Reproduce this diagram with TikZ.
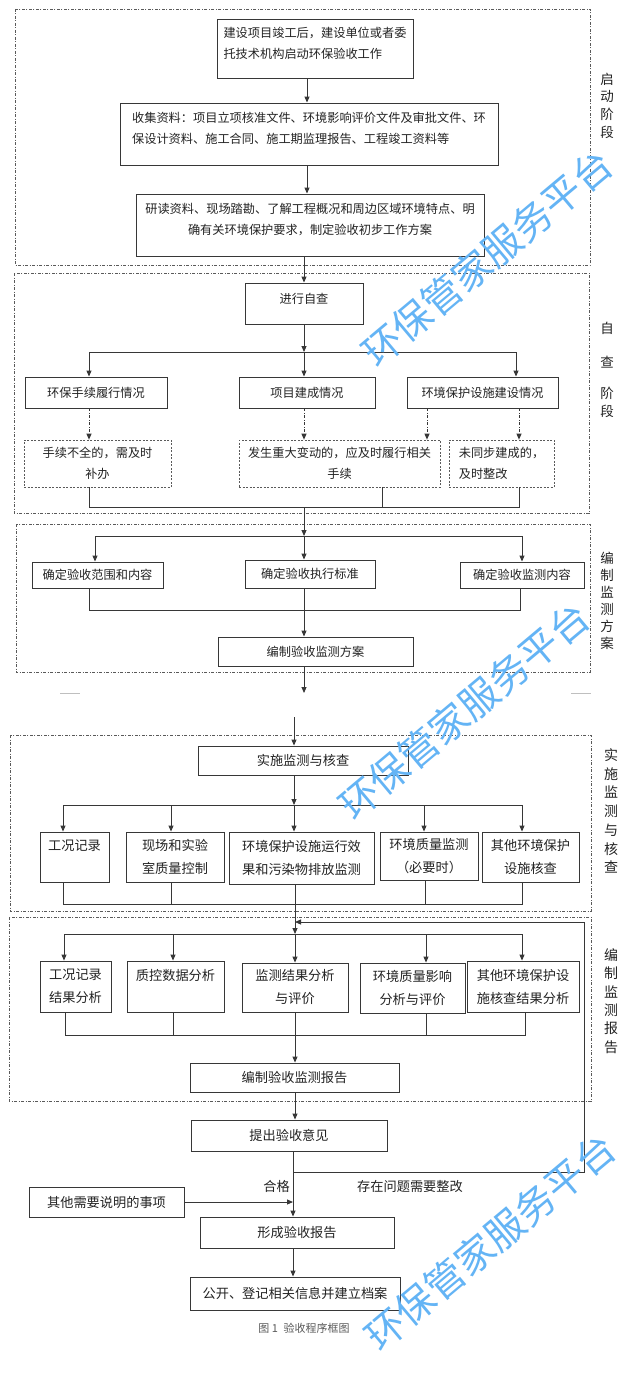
\documentclass[tikz,border=0pt]{standalone}
\usepackage{fontspec}
\setmainfont{Noto Sans CJK SC}
\usetikzlibrary{arrows.meta}
\definecolor{ln}{RGB}{55,55,55}
\definecolor{tx}{RGB}{35,35,35}
\definecolor{wm}{RGB}{100,180,245}
\definecolor{fr}{RGB}{90,90,90}
\begin{document}
\begin{tikzpicture}[x=1pt,y=-1pt,
 box/.style={draw=ln, line width=0.9pt, inner sep=2pt, text=tx},
 pa/.style={font=\fontsize{12.2}{21}\selectfont},
 pb/.style={font=\fontsize{13.2}{23}\selectfont},
 dbox/.style={draw=fr, line width=0.7pt, dash pattern=on 2pt off 1.5pt, inner sep=2pt, text=tx},
 frame/.style={draw=fr, line width=0.7pt, dash pattern=on 3pt off 1.5pt on 1pt off 1.5pt},
 wire/.style={draw=ln, line width=0.9pt},
 arr/.style={wire, -{Triangle[length=6pt,width=5pt]}},
 darr/.style={arr, dash pattern=on 3pt off 1.5pt on 1pt off 1.5pt},
 side/.style={text=tx, align=center},
 wmk/.style={text=wm, font=\fontsize{39}{39}\selectfont, rotate=40}
]
\useasboundingbox (0,0) rectangle (640,1389);
\fill[white] (0,0) rectangle (640,1389);

% ---------- frames ----------
\draw[frame] (15,9) rectangle (590,265);
\draw[frame] (14,273) rectangle (589,513);
\draw[frame] (16,524) rectangle (590,672);
\draw[frame] (10,735) rectangle (591,911);
\draw[frame] (9,917) rectangle (591,1101);

% ---------- side labels ----------
\node[side, font=\fontsize{13.5}{17.7}\selectfont] (s1) at (607,105.5) {启\\动\\阶\\段};
\node[side, font=\fontsize{13.5}{17.7}\selectfont] (s2) at (607,369.5) {自\\[17pt]查\\[13pt]阶\\段};
\node[side, font=\fontsize{13.5}{17}\selectfont] (s3) at (607,600.5) {编\\制\\监\\测\\方\\案};
\node[side, font=\fontsize{14}{18.7}\selectfont] (s4) at (611,811) {实\\施\\监\\测\\与\\核\\查};
\node[side, font=\fontsize{14}{18.4}\selectfont] (s5) at (611,1001) {编\\制\\监\\测\\报\\告};

% ---------- stage 1 ----------
\node[box,pa,minimum width=196pt,minimum height=59pt,align=left] (A) at (315,48.5)
  {建设项目竣工后，建设单位或者委\\托技术机构启动环保验收工作\\[-9pt]\mbox{}};
\node[box,pa,minimum width=378pt,minimum height=62pt,align=left] (B) at (309,134)
  {收集资料：项目立项核准文件、环境影响评价文件及审批文件、环\\保设计资料、施工合同、施工期监理报告、工程竣工资料等\\[-9pt]\mbox{}};
\node[box,pa,minimum width=348pt,minimum height=62pt,align=center] (C) at (310,225)
  {研读资料、现场踏勘、了解工程概况和周边区域环境特点、明\\确有关环境保护要求，制定验收初步工作方案\\[-9pt]\mbox{}};

\coordinate (c1) at (307,0);
\coordinate (c2) at (304,0);
\draw[arr] (A.south -| c1) -- (B.north -| c1);
\draw[arr] (B.south -| c1) -- (C.north -| c1);

% ---------- stage 2 ----------
\node[box,pa,minimum width=118pt,minimum height=41pt,align=center] (D) at (304,303.5) {进行自查\\[-11pt]\mbox{}};
\draw[arr] (C.south -| c2) -- (D.north -| c2);

\node[box,pa,minimum width=142pt,minimum height=31pt] (E1) at (96,392.5) {环保手续履行情况};
\node[box,pa,minimum width=136pt,minimum height=31pt] (E2) at (307,392.5) {项目建成情况};
\node[box,pa,minimum width=151pt,minimum height=31pt] (E3) at (482.5,392.5) {环境保护设施建设情况};

\coordinate (j1) at (304,352);
\coordinate (j1l) at (89,352);
\coordinate (j1r) at (516,352);
\draw[arr] (D.south -| c2) -- (j1);
\draw[wire] (j1l) -- (j1r);
\draw[arr] (j1l) -- (j1l |- E1.north);
\draw[arr] (j1) -- (j1 |- E2.north);
\draw[arr] (j1r) -- (j1r |- E3.north);

\node[dbox,pa,minimum width=147pt,minimum height=47pt,align=center] (F1) at (97.5,463.5) {手续不全的，需及时\\补办};
\node[dbox,pa,minimum width=201pt,minimum height=47pt,align=center] (F2) at (339.5,463.5) {发生重大变动的，应及时履行相关\\手续};
\node[dbox,pa,minimum width=105pt,minimum height=47pt,align=left] (F3) at (501.5,463.5) {未同步建成的，\\及时整改};

\coordinate (d3) at (427,0);
\coordinate (d4) at (519,0);
\draw[darr] (E1.south -| j1l) -- (F1.north -| j1l);
\draw[darr] (E2.south -| c2) -- (F2.north -| c2);
\draw[darr] (E3.south -| d3) -- (F2.north -| d3);
\draw[darr] (E3.south -| d4) -- (F3.north -| d4);

\coordinate (b1l) at (89,507);
\coordinate (b1m) at (382,507);
\coordinate (b1r) at (519,507);
\coordinate (b1c) at (304,507);
\draw[wire] (F1.south -| b1l) -- (b1l) -- (b1r) -- (F3.south -| b1r);
\draw[wire] (F2.south -| b1m) -- (b1m);

% ---------- stage 3 ----------
\node[box,pa,minimum width=131pt,minimum height=26pt] (G1) at (97.5,575) {确定验收范围和内容};
\node[box,pa,minimum width=130pt,minimum height=28pt] (G2) at (310,574) {确定验收执行标准};
\node[box,pa,minimum width=124pt,minimum height=26pt] (G3) at (522,575) {确定验收监测内容};

\coordinate (j2) at (304,536);
\coordinate (j2l) at (95,536);
\coordinate (j2r) at (522,536);
\draw[arr] (b1c) -- (j2);
\draw[wire] (j2l) -- (j2r);
\draw[arr] (j2l) -- (j2l |- G1.north);
\draw[arr] (j2) -- (j2 |- G2.north);
\draw[arr] (j2r) -- (j2r |- G3.north);

\node[box,pa,minimum width=195pt,minimum height=29pt] (H) at (315.5,651.5) {编制验收监测方案};

\coordinate (b2l) at (89,610);
\coordinate (b2c) at (304,610);
\coordinate (b2r) at (520,610);
\draw[wire] (G1.south -| b2l) -- (b2l) -- (b2r) -- (G3.south -| b2r);
\draw[wire] (G2.south -| b2c) -- (b2c);
\draw[arr] (b2c) -- (H.north -| b2c);

\coordinate (pe) at (304,693);
\draw[arr] (H.south -| pe) -- (pe);
\draw[black!25, line width=0.8pt] (60,693) -- (80,693);
\draw[black!25, line width=0.8pt] (571,693) -- (591,693);

% ---------- stage 4 ----------
\node[box,pb,minimum width=210pt,minimum height=29pt] (I) at (303,760.5) {实施监测与核查};
\coordinate (ps) at (294,717);
\draw[arr] (ps) -- (I.north -| ps);

\node[box,pb,minimum width=69pt,minimum height=50pt,align=center] (J1) at (74.5,857) {工况记录\\\mbox{}};
\node[box,pb,minimum width=98pt,minimum height=50pt,align=left] (J2) at (175,857) {现场和实验\\室质量控制};
\node[box,pb,minimum width=145pt,minimum height=52pt,align=left] (J3) at (301.5,858) {环境保护设施运行效\\果和污染物排放监测};
\node[box,pb,minimum width=98pt,minimum height=48pt,align=center] (J4) at (429,856) {环境质量监测\\（必要时）};
\node[box,pb,minimum width=97pt,minimum height=50pt,align=center] (J5) at (530.5,857) {其他环境保护\\设施核查};

\coordinate (j3) at (294,805);
\coordinate (j3a) at (63,805);
\coordinate (j3b) at (171,805);
\coordinate (j3d) at (424,805);
\coordinate (j3e) at (522,805);
\draw[arr] (I.south -| j3) -- (j3);
\draw[wire] (j3a) -- (j3e);
\draw[arr] (j3a) -- (j3a |- J1.north);
\draw[arr] (j3b) -- (j3b |- J2.north);
\draw[arr] (j3) -- (j3 |- J3.north);
\draw[arr] (j3d) -- (j3d |- J4.north);
\draw[arr] (j3e) -- (j3e |- J5.north);

\coordinate (b3a) at (63,904);
\coordinate (b3b) at (171,904);
\coordinate (b3c) at (295,904);
\coordinate (b3d) at (425,904);
\coordinate (b3e) at (522,904);
\draw[wire] (J1.south -| b3a) -- (b3a) -- (b3e) -- (J5.south -| b3e);
\draw[wire] (J2.south -| b3b) -- (b3b);
\draw[wire] (J3.south -| b3c) -- (b3c);
\draw[wire] (J4.south -| b3d) -- (b3d);

% ---------- stage 5 ----------
\node[box,pb,minimum width=71pt,minimum height=51pt,align=center] (K1) at (75.5,986.5) {工况记录\\结果分析};
\node[box,pb,minimum width=97pt,minimum height=51pt,align=center] (K2) at (175.5,986.5) {质控数据分析\\\mbox{}};
\node[box,pb,minimum width=106pt,minimum height=49pt,align=center] (K3) at (295,987.5) {监测结果分析\\与评价};
\node[box,pb,minimum width=105pt,minimum height=50pt,align=center] (K4) at (412.5,988) {环境质量影响\\分析与评价};
\node[box,pb,minimum width=112pt,minimum height=51pt,align=center] (K5) at (523,986.5) {其他环境保护设\\施核查结果分析};

\coordinate (j4) at (295,934);
\coordinate (j4a) at (64,934);
\coordinate (j4b) at (173,934);
\coordinate (j4d) at (426,934);
\coordinate (j4e) at (522,934);
\draw[arr] (b3c) -- (j4);
\draw[wire] (j4a) -- (j4e);
\draw[arr] (j4a) -- (j4a |- K1.north);
\draw[arr] (j4b) -- (j4b |- K2.north);
\draw[arr] (j4) -- (j4 |- K3.north);
\draw[arr] (j4d) -- (j4d |- K4.north);
\draw[arr] (j4e) -- (j4e |- K5.north);

\node[box,pb,minimum width=209pt,minimum height=29pt] (L) at (294.5,1077.5) {编制验收监测报告};

\coordinate (b4a) at (65,1035);
\coordinate (b4b) at (173,1035);
\coordinate (b4c) at (295,1035);
\coordinate (b4d) at (426,1035);
\coordinate (b4e) at (525,1035);
\draw[wire] (K1.south -| b4a) -- (b4a) -- (b4e) -- (K5.south -| b4e);
\draw[wire] (K2.south -| b4b) -- (b4b);
\draw[wire] (K3.south -| b4c) -- (b4c);
\draw[wire] (K4.south -| b4d) -- (b4d);
\draw[arr] (b4c) -- (L.north -| b4c);

% ---------- final ----------
\node[box,pb,minimum width=196pt,minimum height=31pt] (M) at (289,1135.5) {提出验收意见};
\node[box,pb,minimum width=155pt,minimum height=30pt] (O) at (106.5,1202) {其他需要说明的事项};
\node[box,pb,minimum width=194pt,minimum height=31pt] (N) at (297,1232.5) {形成验收报告};
\node[box,pb,minimum width=210pt,minimum height=33pt] (P) at (295,1293.5) {公开、登记相关信息并建立档案};

\coordinate (m0) at (295,0);
\coordinate (m1) at (293,0);
\draw[arr] (L.south -| m0) -- (M.north -| m0);
\draw[arr] (M.south -| m1) -- (N.north -| m1);
\coordinate (fb) at (293,1172);
\coordinate (fbr) at (584,1172);
\coordinate (fbt) at (584,922);
\coordinate (fbe) at (295,922);
\draw[arr] (fb) -- (fbr) -- (fbt) -- (fbe);
\draw[arr] (O.east) -- (O.east -| m1);
\draw[arr] (N.south -| m1) -- (P.north -| m1);

\node[pb, text=tx, anchor=east, inner sep=0pt] (ok) at (290,1186) {合格};
\node[pb, text=tx] (ng) at (410,1186) {存在问题需要整改};

\node[text=fr, font=\fontsize{11}{11}\selectfont] (cap) at (304,1328) {图 1\enspace 验收程序框图};

% ---------- watermarks ----------
\node[wmk] (w1) at (487,258) {环保管家服务平台};
\node[wmk] (w2) at (464,711) {环保管家服务平台};
\node[wmk] (w3) at (490,1242) {环保管家服务平台};
\end{tikzpicture}
\end{document}
